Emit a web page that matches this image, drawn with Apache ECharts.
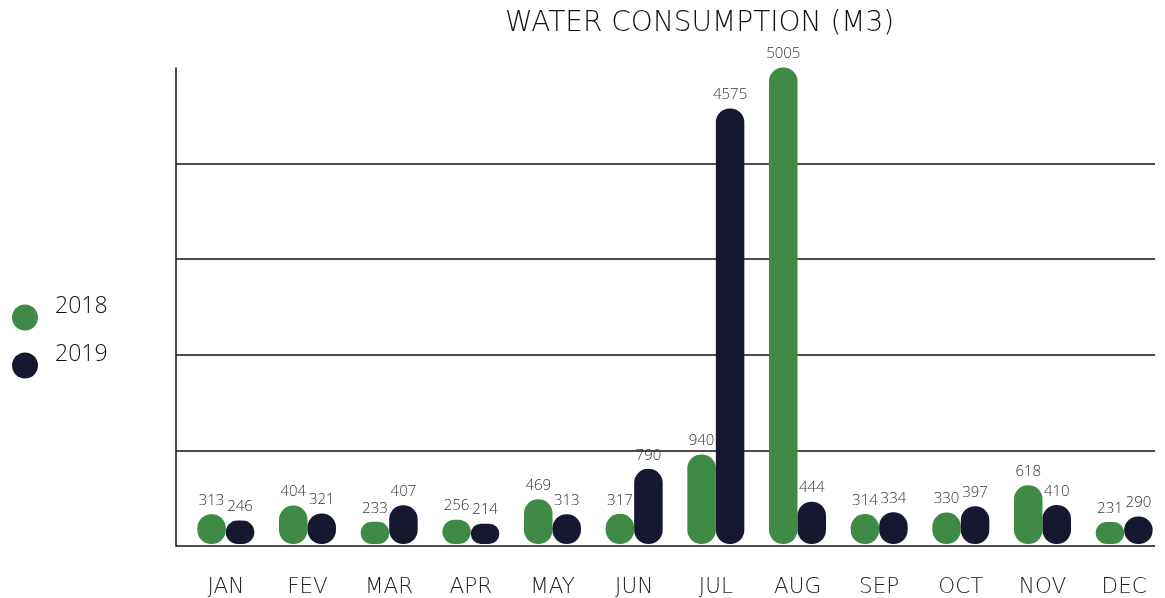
<!DOCTYPE html>
<html><head><meta charset="utf-8">
<script src="https://cdn.jsdelivr.net/npm/echarts@6/dist/echarts.min.js"></script>
<style>html,body{margin:0;padding:0;background:#fff}#c{width:1165px;height:598px}</style>
</head><body><div id="c"></div>
<script>
const months = ['JAN','FEV','MAR','APR','MAY','JUN','JUL','AUG','SEP','OCT','NOV','DEC'];
const values2018 = [313, 404, 233, 256, 469, 317, 940, 5005, 314, 330, 618, 231];
const values2019 = [246, 321, 407, 214, 313, 790, 4575, 444, 334, 397, 410, 290];
const seriesNames = ['2018','2019'];
const titleText = 'WATER CONSUMPTION (M3)';

const FONT = '"Open Sans", Lato, sans-serif';
const WIDE = '"DejaVu Sans", "Open Sans", sans-serif';
const chart = echarts.init(document.getElementById('c'), null, {renderer:'canvas'});
const lbl = {show:true, position:'top', distance:6, color:'#333', fontSize:15, fontFamily:FONT, fontWeight:300};
const legendText = {fontFamily:FONT, fontWeight:300, fontSize:23, color:'#111',
  rich:{t:{fontFamily:FONT, fontWeight:300, fontSize:23, color:'#111', padding:[0,0,22,12]}}};
chart.setOption({
  animation:false,
  backgroundColor:'#fff',
  title:{text:titleText, left:500, top:5, textStyle:{fontFamily:WIDE, fontWeight:200, fontSize:28, color:'#111'}},
  legend:[
    {left:7, top:290, icon:'circle', itemWidth:26, itemHeight:26, data:[seriesNames[0]],
     formatter:'{t|{name}}', textStyle:legendText},
    {left:7, top:338, icon:'circle', itemWidth:26, itemHeight:26, data:[seriesNames[1]],
     formatter:'{t|{name}}', textStyle:legendText}
  ],
  grid:[
    {left:185, right:-8, top:68, bottom:52},
    {left:176, right:10, top:68, bottom:52}
  ],
  xAxis:[
    {type:'category', gridIndex:0, data:months, axisLine:{show:false}, axisTick:{show:false},
     axisLabel:{margin:32, color:'#222', fontSize:21.5, fontFamily:WIDE, fontWeight:200}},
    {type:'value', gridIndex:1, show:false, min:0, max:1}
  ],
  yAxis:[
    {type:'value', gridIndex:0, min:0, max:5000, interval:1000, show:false},
    {type:'value', gridIndex:1, min:0, max:5000, interval:1000,
     axisLine:{show:true, lineStyle:{color:'#111', width:1.5}}, axisTick:{show:false}, axisLabel:{show:false},
     splitLine:{show:true, showMaxLine:false, lineStyle:{color:'#111', width:1.5}}}
  ],
  series:[
    {name:seriesNames[0], type:'bar', xAxisIndex:0, yAxisIndex:0, data:values2018, barWidth:28.5, barGap:0, clip:false,
     itemStyle:{color:'#3f8a44', borderRadius:14}, label:lbl, z:3},
    {name:seriesNames[1], type:'bar', xAxisIndex:0, yAxisIndex:0, data:values2019, barWidth:28.5, barGap:0, clip:false,
     itemStyle:{color:'#15182e', borderRadius:14}, label:lbl, z:3}
  ]
});
</script></body></html>
